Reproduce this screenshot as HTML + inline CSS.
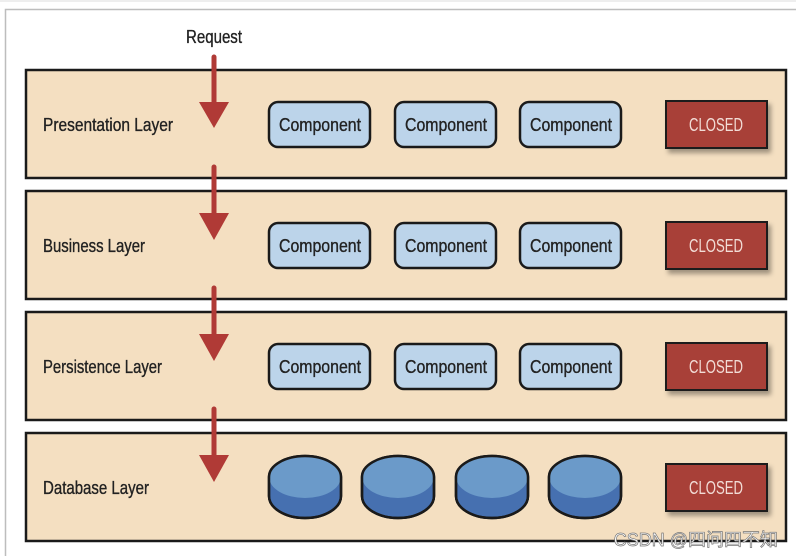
<!DOCTYPE html>
<html><head><meta charset="utf-8"><style>
html,body{margin:0;padding:0;background:#fff;}
svg{display:block;}
text{font-family:"Liberation Sans",sans-serif;}
</style></head><body>
<svg width="796" height="556" viewBox="0 0 796 556" xmlns="http://www.w3.org/2000/svg">
<defs>
<filter id="sh" x="-20%" y="-20%" width="150%" height="160%"><feDropShadow dx="3" dy="4" stdDeviation="2.5" flood-color="#000" flood-opacity="0.35"/></filter>
</defs>
<rect x="0" y="0" width="796" height="2" fill="#eee"/>
<path d="M5.5 556 V9.5 H796" fill="none" stroke="#bdbdbd" stroke-width="1.5"/>
<text x="214" y="43" font-size="18" text-anchor="middle" fill="#222" stroke="#222" stroke-width="0.35" textLength="56" lengthAdjust="spacingAndGlyphs">Request</text>

<g stroke="#1a1a1a" stroke-width="2.5" fill="#f4dfc1">
<rect x="26" y="70" width="760" height="108"/>
<rect x="26" y="191" width="760" height="108"/>
<rect x="26" y="312" width="760" height="108"/>
<rect x="26" y="433" width="760" height="108"/>
</g>

<g fill="#222" stroke="#222" stroke-width="0.35" font-size="18">
<text x="43" y="131" textLength="130" lengthAdjust="spacingAndGlyphs">Presentation Layer</text>
<text x="43" y="252" textLength="102" lengthAdjust="spacingAndGlyphs">Business Layer</text>
<text x="43" y="373" textLength="119" lengthAdjust="spacingAndGlyphs">Persistence Layer</text>
<text x="43" y="494" textLength="106" lengthAdjust="spacingAndGlyphs">Database Layer</text>
</g>

<g stroke="#b03a36" stroke-width="5" stroke-linecap="round">
<line x1="214" y1="57" x2="214" y2="104"/>
<line x1="214" y1="167" x2="214" y2="215"/>
<line x1="214" y1="288" x2="214" y2="336"/>
<line x1="214" y1="409" x2="214" y2="457"/>
</g>
<g fill="#b03a36">
<polygon points="199,102 229,102 214,128"/>
<polygon points="199,213 229,213 214,240"/>
<polygon points="199,334 229,334 214,361"/>
<polygon points="199,455 229,455 214,482"/>
</g>

<g stroke="#1a1a1a" stroke-width="2.5" fill="#bcd4ea">
<rect x="269" y="102" width="101" height="45" rx="9"/>
<rect x="395" y="102" width="101" height="45" rx="9"/>
<rect x="520" y="102" width="101" height="45" rx="9"/>
<rect x="269" y="223" width="101" height="45" rx="9"/>
<rect x="395" y="223" width="101" height="45" rx="9"/>
<rect x="520" y="223" width="101" height="45" rx="9"/>
<rect x="269" y="344" width="101" height="45" rx="9"/>
<rect x="395" y="344" width="101" height="45" rx="9"/>
<rect x="520" y="344" width="101" height="45" rx="9"/>
</g>
<g fill="#222" stroke="#222" stroke-width="0.35" font-size="18" text-anchor="middle">
<text x="320" y="131" textLength="82" lengthAdjust="spacingAndGlyphs">Component</text>
<text x="446" y="131" textLength="82" lengthAdjust="spacingAndGlyphs">Component</text>
<text x="571" y="131" textLength="82" lengthAdjust="spacingAndGlyphs">Component</text>
<text x="320" y="252" textLength="82" lengthAdjust="spacingAndGlyphs">Component</text>
<text x="446" y="252" textLength="82" lengthAdjust="spacingAndGlyphs">Component</text>
<text x="571" y="252" textLength="82" lengthAdjust="spacingAndGlyphs">Component</text>
<text x="320" y="373" textLength="82" lengthAdjust="spacingAndGlyphs">Component</text>
<text x="446" y="373" textLength="82" lengthAdjust="spacingAndGlyphs">Component</text>
<text x="571" y="373" textLength="82" lengthAdjust="spacingAndGlyphs">Component</text>
</g>

<g fill="#a83f37" stroke="#1a1a1a" stroke-width="2" filter="url(#sh)">
<rect x="666" y="101" width="101" height="47"/>
<rect x="666" y="222" width="101" height="47"/>
<rect x="666" y="343" width="101" height="47"/>
<rect x="666" y="464" width="101" height="47"/>
</g>
<g fill="#f2dcd6" font-size="18" text-anchor="middle">
<text x="716" y="131" textLength="54" lengthAdjust="spacingAndGlyphs">CLOSED</text>
<text x="716" y="252" textLength="54" lengthAdjust="spacingAndGlyphs">CLOSED</text>
<text x="716" y="373" textLength="54" lengthAdjust="spacingAndGlyphs">CLOSED</text>
<text x="716" y="494" textLength="54" lengthAdjust="spacingAndGlyphs">CLOSED</text>
</g>

<g stroke="#1a1a1a" stroke-width="2.5">
<g transform="translate(305,0)">
<path d="M-36 477 A36 21 0 0 1 36 477 V496 A36 22 0 0 1 -36 496 Z" fill="#4670b0"/>
<ellipse cx="0" cy="477" rx="36" ry="21" fill="#6b9ac9" stroke="none"/>
<path d="M-36 477 A36 21 0 0 1 36 477 V496 A36 22 0 0 1 -36 496 Z" fill="none"/>
</g>
<g transform="translate(398,0)">
<path d="M-36 477 A36 21 0 0 1 36 477 V496 A36 22 0 0 1 -36 496 Z" fill="#4670b0"/>
<ellipse cx="0" cy="477" rx="36" ry="21" fill="#6b9ac9" stroke="none"/>
<path d="M-36 477 A36 21 0 0 1 36 477 V496 A36 22 0 0 1 -36 496 Z" fill="none"/>
</g>
<g transform="translate(492,0)">
<path d="M-36 477 A36 21 0 0 1 36 477 V496 A36 22 0 0 1 -36 496 Z" fill="#4670b0"/>
<ellipse cx="0" cy="477" rx="36" ry="21" fill="#6b9ac9" stroke="none"/>
<path d="M-36 477 A36 21 0 0 1 36 477 V496 A36 22 0 0 1 -36 496 Z" fill="none"/>
</g>
<g transform="translate(585,0)">
<path d="M-36 477 A36 21 0 0 1 36 477 V496 A36 22 0 0 1 -36 496 Z" fill="#4670b0"/>
<ellipse cx="0" cy="477" rx="36" ry="21" fill="#6b9ac9" stroke="none"/>
<path d="M-36 477 A36 21 0 0 1 36 477 V496 A36 22 0 0 1 -36 496 Z" fill="none"/>
</g>
</g>

<text x="778" y="546" font-size="18" text-anchor="end" fill="#fff" stroke="#777" stroke-width="0.7" style="font-family:'Liberation Sans','Noto Sans CJK SC',sans-serif">CSDN @四问四不知</text>
</svg>
</body></html>
